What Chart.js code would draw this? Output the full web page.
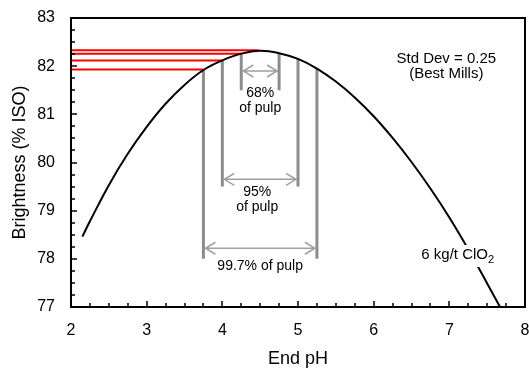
<!DOCTYPE html>
<html>
<head>
<meta charset="utf-8">
<script src="https://cdn.jsdelivr.net/npm/chart.js@4/dist/chart.umd.min.js"></script>
<style>
  html, body { margin: 0; padding: 0; background: #fff; }
  #wrap { width: 529px; height: 372px; }
</style>
</head>
<body>
<div id="wrap"><canvas id="phChart" width="529" height="372"></canvas></div>
<script>
// brightness response curve
const phValues = [2.15, 2.25, 2.5, 2.75, 3.0, 3.25, 3.5, 3.75, 4.0, 4.25, 4.5, 4.75, 5.0, 5.25, 5.5, 5.75, 6.0, 6.25, 6.5, 6.75, 7.0, 7.25, 7.5, 7.67];
const brightness = [78.46, 78.78, 79.53, 80.18, 80.74, 81.22, 81.61, 81.92, 82.12, 82.26, 82.32, 82.27, 82.15, 81.95, 81.68, 81.35, 80.96, 80.51, 80.01, 79.46, 78.86, 78.2, 77.49, 77.0];

// red brightness levels (from the y axis to the curve)
const redLevels = [82.33, 82.26, 82.12, 81.93];
const redEnds = [4.48, 4.25, 4.0, 3.75];

// pulp spread bands
const bandNames = ["68%", "95%", "99.7%"];
const bandLow = [4.25, 4.0, 3.75];
const bandHigh = [4.75, 5.0, 5.25];
const bandLowTop = [82.26, 82.12, 81.93];
const bandHighTop = [82.27, 82.15, 81.95];
const bandBottom = [81.5, 79.5, 78.0];
const arrowLevels = [81.9, 79.65, 78.22];

const FONT = "'Liberation Sans', Arial, sans-serif";

const datasets = [{
    data: phValues.map((x, i) => ({ x: x, y: brightness[i] })),
    borderColor: "#000",
    borderWidth: 2,
    pointRadius: 0,
    showLine: true,
    tension: 0.4,
    order: 0
}];

redLevels.forEach((lvl, i) => {
    datasets.push({
        data: [{ x: 2, y: lvl }, { x: redEnds[i], y: lvl }],
        borderColor: "#ff0000",
        borderWidth: 2,
        pointRadius: 0,
        showLine: true,
        order: 1
    });
});

bandNames.forEach((name, i) => {
    datasets.push({
        data: [{ x: bandLow[i], y: bandLowTop[i] }, { x: bandLow[i], y: bandBottom[i] }],
        borderColor: "#8c8c8c", borderWidth: 3, pointRadius: 0, showLine: true, order: 2
    });
    datasets.push({
        data: [{ x: bandHigh[i], y: bandHighTop[i] }, { x: bandHigh[i], y: bandBottom[i] }],
        borderColor: "#8c8c8c", borderWidth: 3, pointRadius: 0, showLine: true, order: 2
    });
});

const extras = {
    id: "extras",
    afterDraw(chart) {
        const ctx = chart.ctx;
        const xs = chart.scales.x, ys = chart.scales.y;
        const a = chart.chartArea;
        ctx.save();

        // double arrows
        ctx.strokeStyle = "#a0a0a0";
        ctx.lineWidth = 1.5;
        arrowLevels.forEach((lvl, i) => {
            const y = ys.getPixelForValue(lvl);
            const x1 = xs.getPixelForValue(bandLow[i]) + 2;
            const x2 = xs.getPixelForValue(bandHigh[i]) - 2;
            ctx.beginPath();
            ctx.moveTo(x1, y); ctx.lineTo(x2, y);
            ctx.moveTo(x1 + 10, y - 6); ctx.lineTo(x1, y); ctx.lineTo(x1 + 10, y + 6);
            ctx.moveTo(x2 - 10, y - 6); ctx.lineTo(x2, y); ctx.lineTo(x2 - 10, y + 6);
            ctx.stroke();
        });

        // texts
        ctx.fillStyle = "#000";
        ctx.textAlign = "center";
        ctx.textBaseline = "middle";
        ctx.font = "14px " + FONT;
        const cx = xs.getPixelForValue(4.5);
        ctx.fillText("68%", cx, ys.getPixelForValue(81.44));
        ctx.fillText("of pulp", cx, ys.getPixelForValue(81.12));
        ctx.fillText("95%", cx - 3, ys.getPixelForValue(79.39));
        ctx.fillText("of pulp", cx - 3, ys.getPixelForValue(79.07));
        ctx.fillText("99.7% of pulp", cx, ys.getPixelForValue(77.85));

        ctx.font = "15px " + FONT;
        const sx = xs.getPixelForValue(6.96);
        ctx.fillText("Std Dev = 0.25", sx, ys.getPixelForValue(82.16));
        ctx.fillText("(Best Mills)", sx, ys.getPixelForValue(81.85));

        // curve label with white backing and subscript
        const main = "6 kg/t ClO";
        const lx = xs.getPixelForValue(6.63);
        const ly = ys.getPixelForValue(78.08);
        const w1 = ctx.measureText(main).width;
        ctx.font = "11px " + FONT;
        const w2 = ctx.measureText("2").width;
        ctx.fillStyle = "#fff";
        ctx.fillRect(lx - 2, ly - 10, w1 + w2 + 4, 22);
        ctx.fillStyle = "#000";
        ctx.textAlign = "left";
        ctx.font = "15px " + FONT;
        ctx.fillText(main, lx, ly);
        ctx.font = "11px " + FONT;
        ctx.fillText("2", lx + w1, ly + 5);

        // frame
        ctx.strokeStyle = "#000";
        ctx.lineWidth = 2;
        ctx.strokeRect(a.left, a.top, a.right - a.left, a.bottom - a.top);

        // inward ticks
        ctx.lineWidth = 1.5;
        ctx.beginPath();
        for (let v = xs.min; v <= xs.max + 1e-9; v += 0.25) {
            const px = Math.round(xs.getPixelForValue(v));
            const len = Math.abs(v - Math.round(v)) < 1e-9 ? 6 : 4;
            ctx.moveTo(px, a.bottom); ctx.lineTo(px, a.bottom - len);
        }
        for (let v = ys.min; v <= ys.max + 1e-9; v += 0.25) {
            const py = Math.round(ys.getPixelForValue(v));
            const len = Math.abs(v - Math.round(v)) < 1e-9 ? 6 : 4;
            ctx.moveTo(a.left, py); ctx.lineTo(a.left + len, py);
        }
        ctx.stroke();
        ctx.restore();
    }
};

new Chart(document.getElementById("phChart").getContext("2d"), {
    type: "scatter",
    data: { datasets: datasets },
    options: {
        responsive: false,
        animation: false,
        layout: { padding: { left: 0, right: 4, top: 18, bottom: 0 } },
        plugins: { legend: { display: false }, tooltip: { enabled: false } },
        scales: {
            x: {
                type: "linear",
                min: 2, max: 8,
                grid: { display: false, drawTicks: false },
                border: { display: false },
                ticks: { stepSize: 1, padding: 14, color: "#000", font: { size: 16, family: FONT } },
                title: { display: true, text: "End pH", color: "#000", font: { size: 18, family: FONT }, padding: { top: 0, bottom: 2 } },
                afterFit(scale) { scale.height = 65; scale.paddingLeft = 0; scale.paddingRight = 0; }
            },
            y: {
                type: "linear",
                min: 77, max: 83,
                grid: { display: false, drawTicks: false },
                border: { display: false },
                ticks: { stepSize: 1, padding: 16, color: "#000", font: { size: 16, family: FONT } },
                title: { display: true, text: "Brightness (% ISO)", color: "#000", font: { size: 18, family: FONT }, padding: { top: 9, bottom: 0 } },
                afterFit(scale) { scale.width = 71; scale.paddingTop = 0; scale.paddingBottom = 0; }
            }
        }
    },
    plugins: [extras]
});
</script>
</body>
</html>
